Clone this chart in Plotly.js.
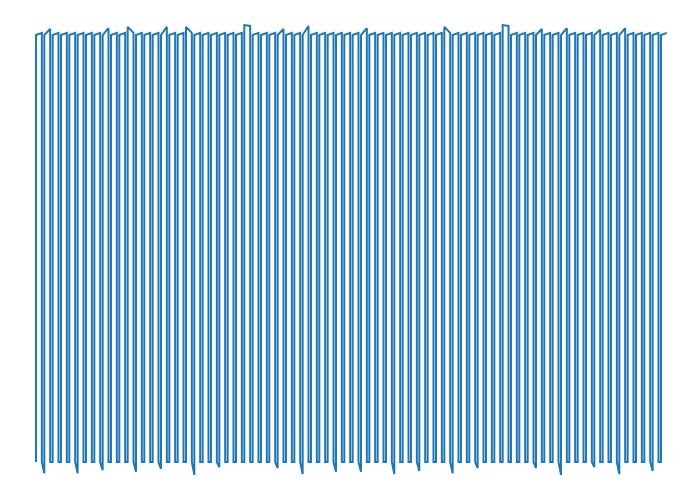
<!DOCTYPE html>
<html>
<head>
<meta charset="utf-8">
<script src="https://cdn.plot.ly/plotly-3.0.1.min.js"></script>
<style>html,body{margin:0;padding:0;background:#fff;}#chart{width:700px;height:500px;}</style>
</head>
<body>
<div id="chart"></div>
<script>
// Per-cycle values: level just before each rise, level at start of the top, level at end of the top
const bottomStart = [
  0, -2.6, 0, 0, 0, -2.6, 0, 0, -1.9, 0,
  0, 0, -2.3, 0, 0, -1.6, 0, 0, 0, -3.0,
  0, 0, -1.2, 0, 0, 0, 0, 0, 0, -1.4,
  0, 0, -2.8, 0, 0, 0, -2.3, 0, 0, -2.3,
  0, 0, 0, -2.8, 0, 0, -2.1, 0, 0, 0,
  -2.6, 0, 0, -1.4, 0, 0, 0, 0, 0, 0,
  -1.4, 0, 0, -3.0, 0, 0, 0, -1.2, 0, 0,
  -2.8, 0, 0, 0, -2.1, 0
];
const topStart = [
  99.3, 99.3, 99.3, 99.3, 99.3, 99.3, 99.3, 99.3, 99.3, 99.3,
  99.3, 101.2, 99.3, 99.3, 99.3, 99.3, 99.3, 99.3, 101.2, 99.3,
  99.3, 99.3, 99.3, 99.3, 99.3, 101.6, 99.3, 99.3, 99.3, 99.3,
  99.3, 99.3, 99.3, 99.3, 99.3, 99.3, 99.3, 99.3, 99.3, 99.3,
  99.3, 99.3, 99.3, 99.3, 99.3, 99.3, 99.3, 99.3, 99.3, 101.2,
  99.3, 99.3, 99.3, 99.3, 99.3, 99.3, 101.6, 99.3, 99.3, 99.3,
  99.3, 99.3, 99.3, 99.3, 99.3, 99.3, 99.3, 99.3, 99.3, 99.3,
  99.3, 99.3, 99.3, 99.3, 99.3, 99.3
];
const topEnd = [
  99.8, 100.7, 99.8, 99.8, 99.8, 99.8, 99.8, 99.8, 100.9, 99.8,
  99.8, 99.8, 99.8, 99.8, 99.8, 101.2, 99.8, 99.8, 99.8, 99.8,
  99.8, 99.8, 99.8, 99.8, 99.8, 101.4, 99.8, 99.8, 99.8, 100.7,
  99.8, 99.8, 101.4, 99.8, 99.8, 99.8, 99.8, 99.8, 99.8, 100.9,
  99.8, 99.8, 99.8, 99.8, 99.8, 99.8, 99.8, 99.8, 99.8, 99.8,
  99.8, 99.8, 99.8, 99.8, 99.8, 99.8, 101.4, 99.8, 99.8, 99.8,
  100.7, 99.8, 99.8, 100.9, 99.8, 99.8, 99.8, 100.5, 99.8, 99.8,
  100.9, 99.8, 99.8, 99.8, 99.8, 99.8
];
const bottomEnd = 0;
const topWidth = 0.7;

const xs = [], ys = [];
for (let k = 0; k < topStart.length; k++) {
  xs.push(k); ys.push(bottomStart[k]);
  xs.push(k); ys.push(topStart[k]);
  xs.push(k + topWidth); ys.push(topEnd[k]);
  if (k < topStart.length - 1) { xs.push(k + topWidth); ys.push(bottomEnd); }
}

const trace = {
  x: xs, y: ys, type: 'scatter', mode: 'lines',
  line: {color: '#1f77b4', width: 2, shape: 'linear'},
  hoverinfo: 'skip'
};
const layout = {
  width: 700, height: 500,
  margin: {l: 30, r: 30, t: 20, b: 20, pad: 0},
  paper_bgcolor: '#ffffff', plot_bgcolor: '#ffffff',
  showlegend: false,
  xaxis: {range: [-0.72, 76.08], visible: false, showgrid: false, zeroline: false},
  yaxis: {range: [-4.19, 102.79], visible: false, showgrid: false, zeroline: false}
};
Plotly.newPlot('chart', [trace], layout, {displayModeBar: false, staticPlot: true});
</script>
</body>
</html>
